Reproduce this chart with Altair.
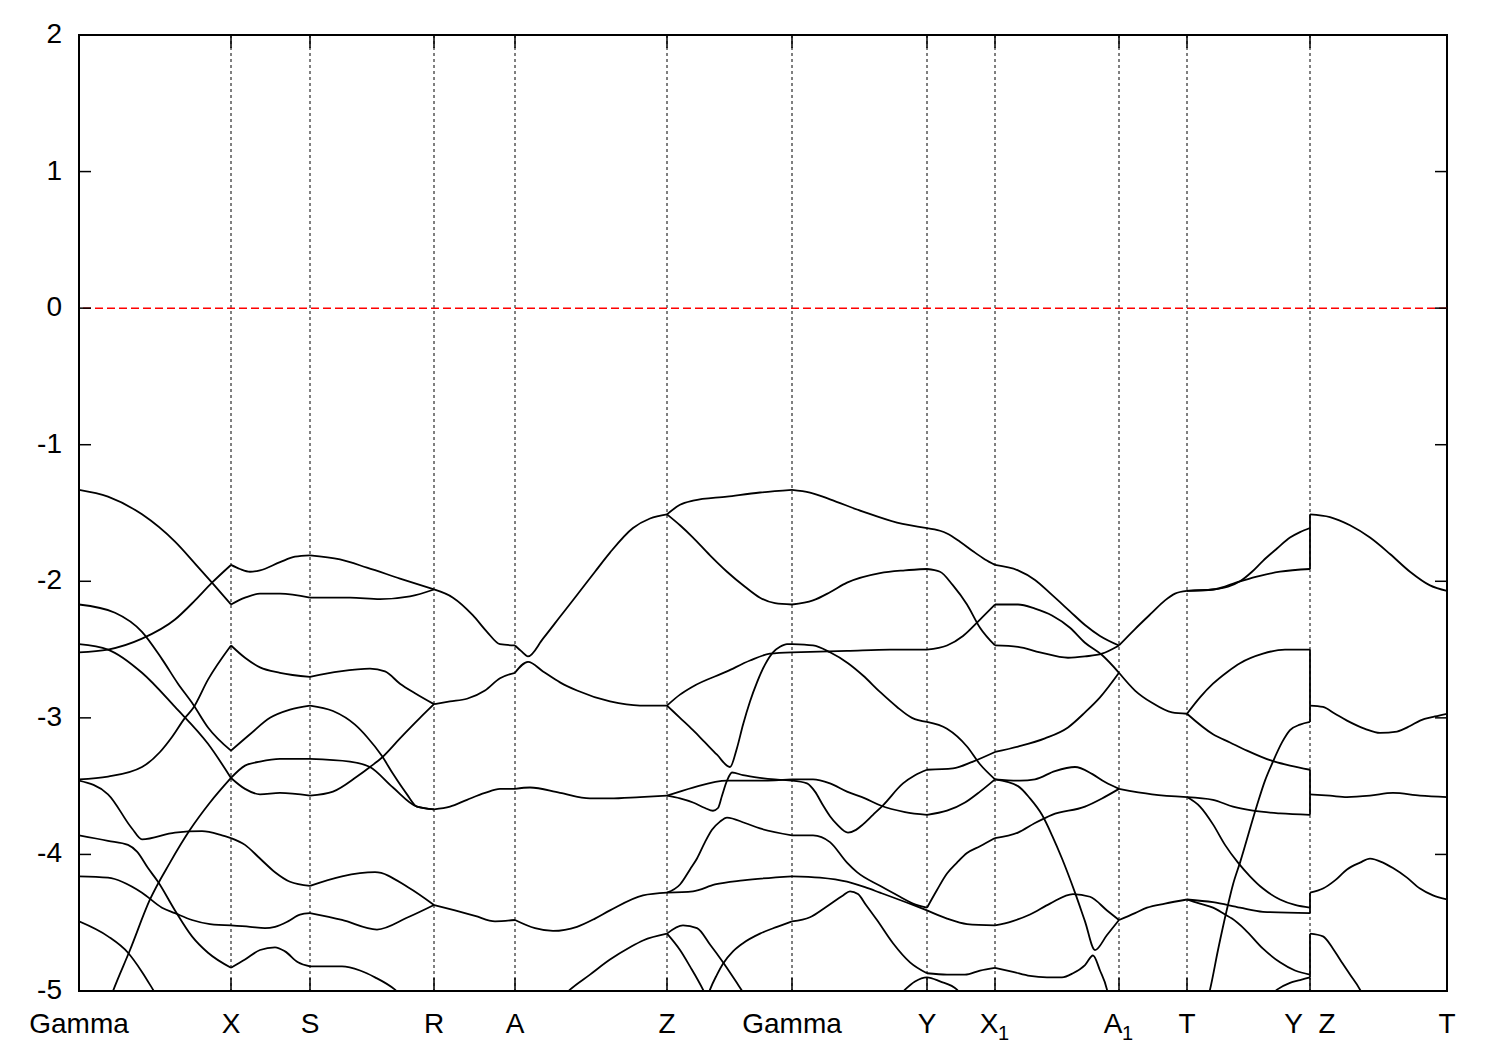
import altair as alt
import pandas as pd

# ---------------- high-symmetry points and axis ticks ----------------
kpt_pos = [0.000, 0.152, 0.231, 0.355, 0.436, 0.588, 0.713, 0.848, 0.916, 1.040, 1.108, 1.231, 1.368]
kpt_lab = ["Gamma", "X", "S", "R", "A", "Z", "Gamma", "Y", "", "", "T", "Y\u00a0\u00a0Z", "T"]
sub_pos = [0.916, 1.040]          # labels carrying a subscript
sub_base = ["X", "A"]
sub_text = ["1", "1"]
y_ticks = [-5, -4, -3, -2, -1, 0, 1, 2]

# ---------------- bands (k path distance, energy in eV) ----------------
# Gamma - X
gx1 = ([0, .029, .063, .096, .116, .133, .152], [-1.33, -1.38, -1.51, -1.71, -1.87, -2.01, -2.17])
gx2 = ([0, .029, .063, .096, .116, .133, .152], [-2.52, -2.50, -2.42, -2.28, -2.14, -2.01, -1.88])
gx3 = ([0, .036, .063, .083, .099, .114, .129, .152], [-2.17, -2.23, -2.37, -2.57, -2.75, -2.90, -3.07, -3.24])
gx4 = ([0, .029, .063, .096, .129, .152], [-2.46, -2.50, -2.67, -2.92, -3.19, -3.44])
gx5 = ([0, .029, .063, .081, .093, .106, .114, .129, .152], [-3.45, -3.43, -3.36, -3.25, -3.14, -3.00, -2.93, -2.72, -2.47])
gx6 = ([0, .029, .053, .063, .096, .123, .143, .152], [-3.46, -3.56, -3.81, -3.89, -3.84, -3.83, -3.86, -3.88])
gx7 = ([0, .029, .049, .058, .069, .079, .096, .113, .129, .152], [-3.86, -3.90, -3.93, -3.98, -4.10, -4.20, -4.41, -4.60, -4.72, -4.83])
gx8 = ([0, .029, .063, .083, .096, .113, .131, .152], [-4.16, -4.17, -4.28, -4.39, -4.43, -4.48, -4.51, -4.52])
gx9 = ([0, .029, .049, .063, .074, .083], [-4.49, -4.60, -4.72, -4.86, -4.99, -5.10])
gx10 = ([.027, .034, .051, .071, .091, .111, .131, .152], [-5.14, -5.00, -4.70, -4.33, -4.06, -3.82, -3.62, -3.44])
# X - S
xs1 = ([.152, .161, .171, .181, .201, .216, .231], [-1.88, -1.91, -1.93, -1.92, -1.86, -1.82, -1.81])
xs2 = ([.152, .166, .181, .201, .231], [-2.17, -2.12, -2.09, -2.09, -2.12])
xs3 = ([.152, .166, .181, .201, .231], [-2.47, -2.56, -2.63, -2.67, -2.70])
xs4 = ([.152, .171, .191, .211, .231], [-3.24, -3.12, -3.00, -2.94, -2.91])
xs5 = ([.152, .166, .181, .201, .231], [-3.44, -3.35, -3.32, -3.30, -3.30])
xs6 = ([.152, .166, .181, .201, .231], [-3.44, -3.52, -3.56, -3.55, -3.57])
xs7 = ([.152, .166, .181, .196, .211, .231], [-3.88, -3.93, -4.03, -4.13, -4.20, -4.23])
xs8 = ([.152, .171, .186, .196, .209, .221, .231], [-4.52, -4.53, -4.54, -4.53, -4.49, -4.44, -4.43])
xs9 = ([.152, .166, .181, .196, .206, .219, .231], [-4.83, -4.77, -4.70, -4.68, -4.71, -4.79, -4.82])
# S - R
sr1 = ([.231, .261, .288, .321, .355], [-1.81, -1.84, -1.90, -1.98, -2.06])
sr2 = ([.231, .271, .301, .331, .355], [-2.12, -2.12, -2.13, -2.11, -2.06])
sr3 = ([.231, .261, .291, .306, .321, .336, .355], [-2.70, -2.66, -2.64, -2.66, -2.75, -2.82, -2.90])
sr4 = ([.231, .254, .276, .288, .303, .314, .328, .338, .355], [-2.91, -2.95, -3.05, -3.14, -3.28, -3.41, -3.56, -3.65, -3.67])
sr5 = ([.231, .271, .291, .314, .338, .355], [-3.30, -3.32, -3.36, -3.51, -3.65, -3.67])
sr6 = ([.231, .254, .278, .291, .303, .321, .341, .355], [-3.57, -3.54, -3.43, -3.36, -3.29, -3.15, -3.00, -2.90])
sr7 = ([.231, .263, .296, .329, .355], [-4.23, -4.16, -4.13, -4.24, -4.37])
sr8 = ([.231, .263, .298, .329, .355], [-4.43, -4.48, -4.55, -4.46, -4.37])
sr9 = ([.231, .263, .281, .296, .316, .331], [-4.82, -4.82, -4.85, -4.90, -4.99, -5.10])
# R - A
ra1 = ([.355, .374, .394, .408, .421, .436], [-2.06, -2.12, -2.25, -2.37, -2.46, -2.47])
ra2 = ([.355, .371, .388, .406, .421, .436], [-2.90, -2.88, -2.86, -2.80, -2.71, -2.67])
ra3 = ([.355, .371, .388, .406, .421, .436], [-3.67, -3.65, -3.60, -3.55, -3.52, -3.52])
ra4 = ([.355, .376, .396, .416, .436], [-4.37, -4.41, -4.45, -4.49, -4.48])
# A - Z
az1 = ([.436, .442, .449, .464, .481, .498, .516, .531, .554, .571, .588], [-2.47, -2.51, -2.55, -2.42, -2.26, -2.10, -1.93, -1.79, -1.61, -1.54, -1.51])
az2 = ([.436, .449, .464, .481, .498, .531, .561, .588], [-2.67, -2.59, -2.66, -2.74, -2.80, -2.88, -2.91, -2.91])
az3 = ([.436, .451, .481, .511, .531, .561, .588], [-3.52, -3.51, -3.55, -3.59, -3.59, -3.58, -3.57])
az4 = ([.436, .456, .474, .498, .516, .531, .564, .588], [-4.48, -4.54, -4.56, -4.53, -4.47, -4.41, -4.30, -4.28])
az5 = ([.476, .491, .511, .531, .551, .564, .588], [-5.10, -4.99, -4.88, -4.77, -4.68, -4.63, -4.58])
# Z - Gamma
zg1 = ([.588, .601, .614, .648, .681, .713], [-1.51, -1.44, -1.41, -1.38, -1.35, -1.33])
zg2 = ([.588, .601, .614, .631, .648, .666, .681, .696, .713], [-1.51, -1.59, -1.68, -1.81, -1.93, -2.04, -2.12, -2.16, -2.17])
zg3 = ([.588, .601, .614, .648, .671, .691, .713], [-2.91, -2.83, -2.77, -2.66, -2.58, -2.53, -2.52])
zg4 = ([.588, .601, .614, .626, .638, .651, .658, .664, .671, .678, .686, .694, .701, .708, .713],
       [-2.91, -3.00, -3.09, -3.18, -3.27, -3.36, -3.22, -3.05, -2.88, -2.74, -2.61, -2.52, -2.48, -2.46, -2.46])
zg5 = ([.588, .614, .648, .681, .713], [-3.57, -3.51, -3.46, -3.46, -3.45])
zg6 = ([.588, .601, .614, .626, .634, .639, .643, .648, .653, .664, .681, .713],
       [-3.57, -3.59, -3.62, -3.66, -3.68, -3.66, -3.57, -3.46, -3.40, -3.42, -3.44, -3.46])
zg7 = ([.588, .601, .611, .618, .626, .633, .641, .648, .666, .681, .713], [-4.28, -4.22, -4.11, -4.03, -3.91, -3.82, -3.76, -3.73, -3.77, -3.81, -3.86])
zg8 = ([.588, .614, .636, .664, .713], [-4.28, -4.27, -4.22, -4.19, -4.16])
zg9 = ([.588, .604, .618, .631, .644, .656, .666, .673], [-4.58, -4.52, -4.54, -4.66, -4.79, -4.92, -5.03, -5.10])
zg10 = ([.588, .601, .611, .624, .631], [-4.58, -4.70, -4.82, -4.99, -5.10])
zg11 = ([.626, .631, .638, .644, .654, .664, .681, .698, .713], [-5.10, -4.99, -4.88, -4.80, -4.71, -4.65, -4.58, -4.53, -4.49])
# Gamma - Y
gy1 = ([.713, .731, .751, .784, .818, .848], [-1.33, -1.35, -1.40, -1.49, -1.57, -1.61])
gy2 = ([.713, .734, .751, .768, .801, .826, .848], [-2.17, -2.14, -2.08, -2.01, -1.94, -1.92, -1.91])
gy3 = ([.713, .734, .751, .769, .784, .801, .818, .833, .848], [-2.46, -2.47, -2.52, -2.60, -2.69, -2.81, -2.92, -3.00, -3.03])
gy4 = ([.713, .768, .811, .848], [-2.52, -2.51, -2.50, -2.50])
gy5 = ([.713, .734, .751, .768, .786, .801, .826, .848], [-3.45, -3.45, -3.48, -3.54, -3.59, -3.64, -3.69, -3.71])
gy6 = ([.713, .728, .736, .744, .751, .758, .769, .777, .784, .794, .804, .824, .836, .848],
       [-3.46, -3.48, -3.54, -3.64, -3.72, -3.78, -3.84, -3.82, -3.78, -3.71, -3.64, -3.48, -3.42, -3.38])
gy7 = ([.713, .734, .751, .768, .778, .801, .821, .834, .848], [-3.86, -3.86, -3.91, -4.06, -4.13, -4.23, -4.31, -4.36, -4.39])
gy8 = ([.713, .741, .768, .786, .801, .834, .848], [-4.16, -4.17, -4.20, -4.24, -4.28, -4.37, -4.41])
gy9 = ([.713, .731, .746, .764, .771, .779, .787, .798, .814, .831, .848], [-4.49, -4.46, -4.39, -4.30, -4.27, -4.29, -4.37, -4.48, -4.65, -4.79, -4.87])
gy10 = ([.816, .826, .836, .848, .861, .878, .886], [-5.07, -4.99, -4.93, -4.90, -4.93, -4.99, -5.07])
# Y - X1
yx1 = ([.848, .861, .868, .881, .894, .906, .916], [-1.61, -1.63, -1.65, -1.71, -1.78, -1.84, -1.88])
yx2 = ([.848, .861, .874, .888, .901, .916], [-1.91, -1.93, -2.03, -2.17, -2.34, -2.47])
yx3 = ([.848, .868, .884, .901, .916], [-2.50, -2.47, -2.40, -2.28, -2.17])
yx4 = ([.848, .868, .888, .901, .916], [-3.03, -3.08, -3.21, -3.34, -3.45])
yx5 = ([.848, .874, .894, .916], [-3.38, -3.37, -3.32, -3.25])
yx6 = ([.848, .868, .886, .901, .916], [-3.71, -3.68, -3.62, -3.54, -3.45])
yx7 = ([.848, .858, .868, .878, .888, .901, .916], [-4.39, -4.26, -4.14, -4.06, -3.99, -3.94, -3.88])
yx8 = ([.848, .868, .888, .916], [-4.41, -4.47, -4.51, -4.52])
yx9 = ([.848, .868, .886, .901, .916], [-4.87, -4.88, -4.88, -4.85, -4.83])
# X1 - A1
xa1 = ([.916, .939, .956, .973, .991, 1.006, 1.021, 1.040], [-1.88, -1.92, -1.99, -2.10, -2.22, -2.32, -2.40, -2.47])
xa2 = ([.916, .939, .956, .973, .991, 1.006, 1.023, 1.040], [-2.17, -2.17, -2.20, -2.25, -2.34, -2.45, -2.54, -2.67])
xa3 = ([.916, .939, .961, .989, 1.006, 1.023, 1.040], [-2.47, -2.48, -2.52, -2.56, -2.55, -2.53, -2.47])
xa4 = ([.916, .939, .966, .989, 1.006, 1.021, 1.040], [-3.25, -3.21, -3.15, -3.07, -2.96, -2.85, -2.67])
xa5 = ([.916, .941, .956, .976, .996, 1.013, 1.026, 1.040], [-3.45, -3.46, -3.45, -3.39, -3.36, -3.41, -3.47, -3.52])
xa6 = ([.916, .939, .951, .963, .973, .983, .996, 1.006, 1.016, 1.028, 1.040],
       [-3.45, -3.50, -3.59, -3.71, -3.86, -4.03, -4.28, -4.49, -4.70, -4.59, -4.48])
xa7 = ([.916, .934, .951, .968, .983, .994, 1.006, 1.014, 1.021, 1.028, 1.031],
       [-4.83, -4.86, -4.89, -4.90, -4.90, -4.87, -4.81, -4.74, -4.85, -4.99, -5.10])
xa8 = ([.916, .939, .956, .973, 1.006, 1.023, 1.040], [-3.88, -3.84, -3.77, -3.71, -3.65, -3.59, -3.52])
xa9 = ([.916, .933, .951, .971, .994, 1.011, 1.028, 1.040], [-4.52, -4.49, -4.44, -4.36, -4.29, -4.31, -4.41, -4.48])
# A1 - T
at1 = ([1.040, 1.056, 1.073, 1.086, 1.096, 1.108], [-2.47, -2.35, -2.23, -2.14, -2.09, -2.07])
at2 = ([1.040, 1.056, 1.073, 1.093, 1.108], [-2.67, -2.80, -2.89, -2.96, -2.97])
at3 = ([1.040, 1.073, 1.108], [-3.52, -3.56, -3.58])
at4 = ([1.040, 1.056, 1.068, 1.086, 1.108], [-4.48, -4.43, -4.39, -4.36, -4.33])
# T - Y
ty1 = ([1.108, 1.134, 1.149, 1.161, 1.173, 1.184, 1.198, 1.211, 1.221, 1.231], [-2.07, -2.06, -2.04, -2.00, -1.93, -1.85, -1.76, -1.68, -1.64, -1.61])
ty2 = ([1.108, 1.134, 1.161, 1.181, 1.201, 1.231], [-2.07, -2.06, -2.00, -1.96, -1.93, -1.91])
ty3 = ([1.108, 1.121, 1.134, 1.149, 1.161, 1.184, 1.206, 1.231], [-2.97, -2.85, -2.75, -2.66, -2.60, -2.53, -2.50, -2.50])
ty4 = ([1.108, 1.134, 1.151, 1.168, 1.191, 1.211, 1.231], [-2.97, -3.12, -3.18, -3.24, -3.31, -3.35, -3.38])
ty5 = ([1.127, 1.131, 1.139, 1.148, 1.154, 1.161, 1.178, 1.186, 1.194, 1.203, 1.211, 1.221, 1.231],
       [-5.10, -4.99, -4.70, -4.40, -4.22, -4.06, -3.64, -3.46, -3.32, -3.18, -3.09, -3.05, -3.03])
ty6 = ([1.108, 1.134, 1.154, 1.174, 1.201, 1.231], [-3.58, -3.60, -3.65, -3.68, -3.70, -3.71])
ty7 = ([1.108, 1.121, 1.134, 1.146, 1.159, 1.171, 1.184, 1.201, 1.216, 1.231], [-3.58, -3.65, -3.78, -3.93, -4.06, -4.16, -4.25, -4.33, -4.37, -4.39])
ty8 = ([1.108, 1.134, 1.161, 1.184, 1.231], [-4.33, -4.35, -4.39, -4.42, -4.43])
ty9 = ([1.108, 1.121, 1.134, 1.146, 1.153, 1.166, 1.184, 1.201, 1.216, 1.231], [-4.33, -4.36, -4.39, -4.44, -4.47, -4.55, -4.69, -4.79, -4.85, -4.88])
ty10 = ([1.186, 1.198, 1.211, 1.221, 1.231], [-5.07, -4.99, -4.94, -4.92, -4.90])
# Z - T
zt1 = ([1.231, 1.251, 1.271, 1.291, 1.311, 1.331, 1.351, 1.368], [-1.51, -1.53, -1.59, -1.68, -1.80, -1.93, -2.03, -2.07])
zt2 = ([1.231, 1.244, 1.256, 1.268, 1.286, 1.301, 1.318, 1.331, 1.341, 1.356, 1.368], [-2.91, -2.92, -2.97, -3.02, -3.08, -3.11, -3.10, -3.06, -3.02, -2.99, -2.97])
zt3 = ([1.231, 1.251, 1.268, 1.291, 1.314, 1.341, 1.368], [-3.56, -3.57, -3.58, -3.57, -3.55, -3.57, -3.58])
zt4 = ([1.231, 1.244, 1.256, 1.268, 1.281, 1.291, 1.304, 1.314, 1.328, 1.341, 1.354, 1.368],
       [-4.28, -4.25, -4.19, -4.11, -4.06, -4.03, -4.06, -4.10, -4.17, -4.25, -4.30, -4.33])
zt5 = ([1.231, 1.244, 1.254, 1.261, 1.271, 1.281, 1.288], [-4.58, -4.60, -4.69, -4.77, -4.88, -4.99, -5.10])

# discontinuity at Y|Z : band energies just left (Y) and right (Z)
jump_lo = [-1.91, -3.03, -3.71, -4.43, -4.90]
jump_hi = [-1.51, -2.50, -3.38, -4.28, -4.58]

curves = [gx1, gx2, gx3, gx4, gx5, gx6, gx7, gx8, gx9, gx10,
          xs1, xs2, xs3, xs4, xs5, xs6, xs7, xs8, xs9,
          sr1, sr2, sr3, sr4, sr5, sr6, sr7, sr8, sr9,
          ra1, ra2, ra3, ra4,
          az1, az2, az3, az4, az5,
          zg1, zg2, zg3, zg4, zg5, zg6, zg7, zg8, zg9, zg10, zg11,
          gy1, gy2, gy3, gy4, gy5, gy6, gy7, gy8, gy9, gy10,
          yx1, yx2, yx3, yx4, yx5, yx6, yx7, yx8, yx9,
          xa1, xa2, xa3, xa4, xa5, xa6, xa7, xa8, xa9,
          at1, at2, at3, at4,
          ty1, ty2, ty3, ty4, ty5, ty6, ty7, ty8, ty9, ty10,
          zt1, zt2, zt3, zt4, zt5]

rows = []
for cid, (ks, es) in enumerate(curves):
    for i, (k, e) in enumerate(zip(ks, es)):
        rows.append({"curve": cid, "i": i, "k": k, "E": e})
band_df = pd.DataFrame(rows)

kp_df = pd.DataFrame({"k": kpt_pos, "label": kpt_lab})
grid_df = kp_df.iloc[1:-1]
sub_df = pd.DataFrame({"k": sub_pos, "base": sub_base, "sub": sub_text})
yt_df = pd.DataFrame({"E": y_ticks, "lab": [str(v) for v in y_ticks]})
jump_df = pd.DataFrame({"k": [kpt_pos[11]] * len(jump_lo), "lo": jump_lo, "hi": jump_hi})

W, H = 1368, 956
FONT = "Liberation Sans"
FS = 28
LW = 1.8
xs = alt.Scale(domain=[0, kpt_pos[-1]], nice=False, zero=False)
ys = alt.Scale(domain=[-5, 2], nice=False, zero=False)
X = alt.X("k:Q", scale=xs, axis=None)

grid = alt.Chart(grid_df).mark_rule(color="black", strokeWidth=1, strokeDash=[3, 3]).encode(x=X)

zero = alt.Chart(pd.DataFrame({"E": [0]})).mark_rule(color="#ff0000", strokeWidth=1.5, strokeDash=[8, 4]).encode(
    y=alt.Y("E:Q", scale=ys, axis=None))

bands = alt.Chart(band_df).mark_line(interpolate="monotone", clip=True, color="black", strokeWidth=LW).encode(
    x=X, y=alt.Y("E:Q", scale=ys, axis=None), detail="curve:N", order="i:Q")

jumps = alt.Chart(jump_df).mark_rule(color="black", strokeWidth=LW).encode(
    x=X, y=alt.Y("lo:Q", scale=ys, axis=None), y2="hi:Q")

ytl = alt.Chart(yt_df).mark_rule(color="black", strokeWidth=1.5).encode(
    y=alt.Y("E:Q", scale=ys, axis=None), x=alt.value(0), x2=alt.value(12))
ytr = alt.Chart(yt_df).mark_rule(color="black", strokeWidth=1.5).encode(
    y=alt.Y("E:Q", scale=ys, axis=None), x=alt.value(W - 12), x2=alt.value(W))
xtb = alt.Chart(grid_df).mark_rule(color="black", strokeWidth=1.5).encode(
    x=X, y=alt.value(H - 13), y2=alt.value(H))
xtt = alt.Chart(grid_df).mark_rule(color="black", strokeWidth=1.5).encode(
    x=X, y=alt.value(0), y2=alt.value(13))

xlab = alt.Chart(kp_df).mark_text(font=FONT, fontSize=FS, align="center", baseline="alphabetic", color="black").encode(
    x=X, y=alt.value(998), text="label:N")
xlab_base = alt.Chart(sub_df).mark_text(font=FONT, fontSize=FS, align="center", baseline="alphabetic", color="black", dx=-6).encode(
    x=X, y=alt.value(998), text="base:N")
xlab_sub = alt.Chart(sub_df).mark_text(font=FONT, fontSize=20, align="left", baseline="alphabetic", color="black", dx=3).encode(
    x=X, y=alt.value(1005), text="sub:N")
ylab = alt.Chart(yt_df).mark_text(font=FONT, fontSize=FS, align="right", baseline="middle", color="black").encode(
    y=alt.Y("E:Q", scale=ys, axis=None), x=alt.value(-17), text="lab:N")

chart = alt.layer(grid, zero, bands, jumps, ytl, ytr, xtb, xtt, xlab, xlab_base, xlab_sub, ylab).properties(
    width=W, height=H,
    padding={"left": 71, "top": 27, "right": 45, "bottom": 55},
    autosize=alt.AutoSizeParams(type="none"),
    background="white",
).configure_view(stroke="black", strokeWidth=2)

chart.save("out.html", embed_options={"renderer": "svg", "actions": False})
